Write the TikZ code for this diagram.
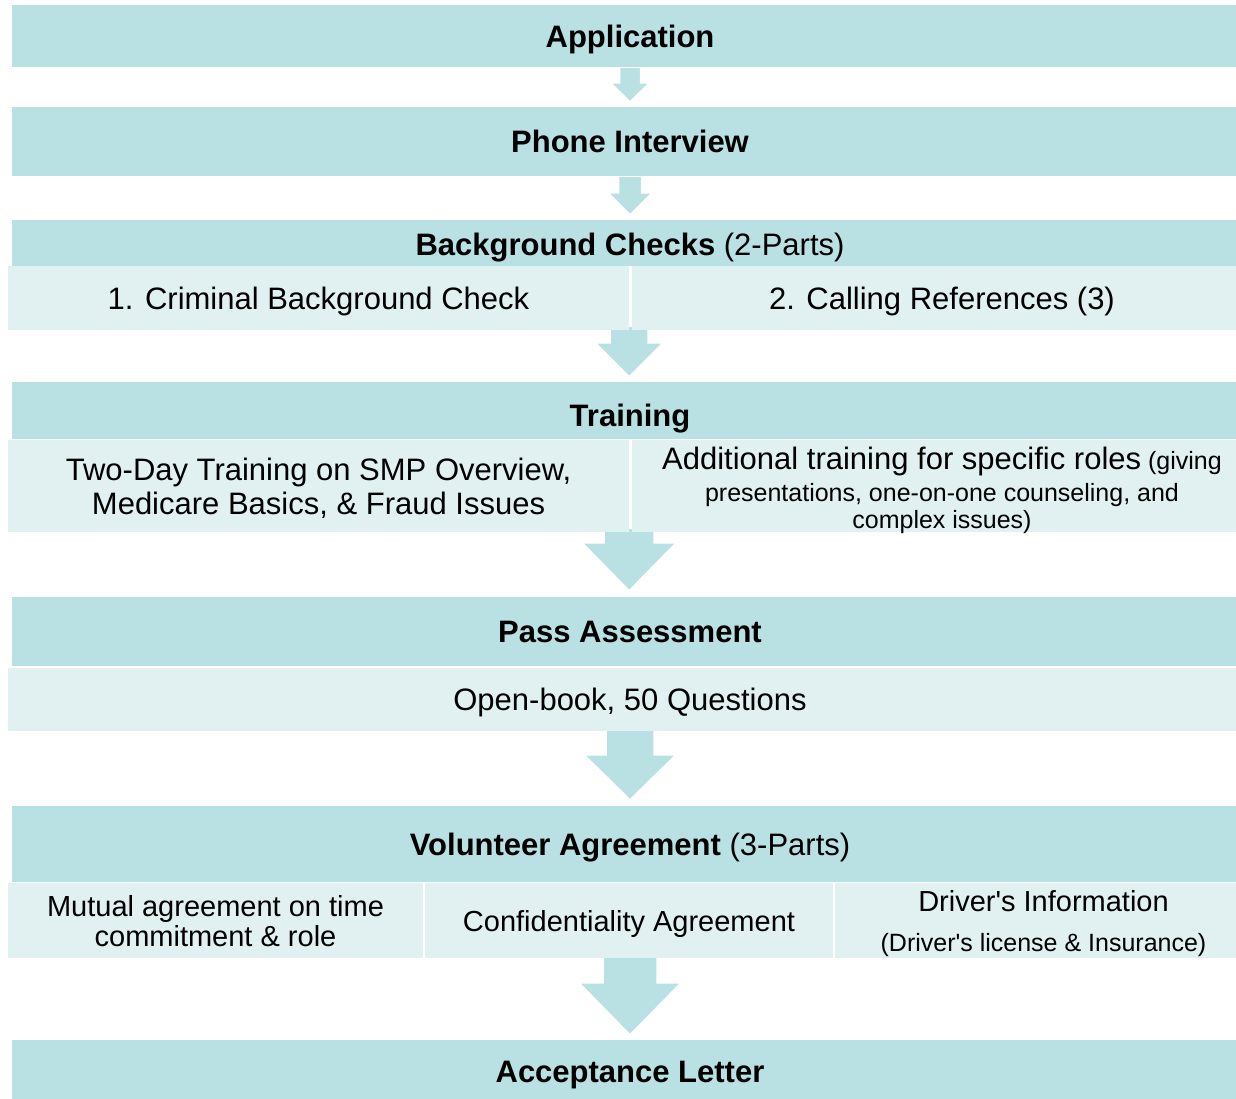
\documentclass[tikz,border=0pt]{standalone}
\usepackage{fontspec}
\setmainfont{Liberation Sans}
\usetikzlibrary{calc,backgrounds}
\definecolor{bandfill}{RGB}{185,224,227}
\definecolor{partfill}{RGB}{225,240,241}
\tikzset{
  band/.style={fill=bandfill,minimum width=1236pt,inner sep=0pt,
    text height=22pt,text depth=0pt,
    font=\fontsize{31}{34}\selectfont\bfseries},
  part/.style={fill=partfill,inner sep=0pt,align=center,
    text height=22pt,text depth=0pt,
    font=\fontsize{31}{34}\selectfont},
}
% block arrow: start point, target node, shaft half width, head half width, head length, gap
\newcommand\blockarrow[6]{%
  \fill[bandfill,draw=white,line width=1.5pt] let \p1=#1, \p2=(#2.north) in
    (\x1-#3pt,\y1) -- (\x1+#3pt,\y1) -- (\x1+#3pt,\y2+#6pt+#5pt)
    -- (\x1+#4pt,\y2+#6pt+#5pt) -- (\x1,\y2+#6pt) -- (\x1-#4pt,\y2+#6pt+#5pt)
    -- (\x1-#3pt,\y2+#6pt+#5pt) -- cycle;}
\begin{document}
\begin{tikzpicture}[x=1pt,y=-1pt]
  \useasboundingbox (0,0) rectangle (1236,1098);
  \node[band,minimum height=62pt] (app) at (630,36) {Application};
  \node[band,minimum height=69pt] (phone) at (630,141.5) {Phone Interview};
  \node[band,minimum height=46pt,text height=24pt] (bg) at (630,243) {Background Checks \mdseries(2-Parts)};
  \node[part,minimum width=621pt,minimum height=64pt] (bgL) at (318.5,298) {1. Criminal Background Check};
  \node[part,minimum width=620pt,minimum height=64pt] (bgR) at (942,298) {2. Calling References (3)};
  \node[band,minimum height=57pt,text height=31pt] (train) at (630,410.5) {Training};
  \node[part,minimum width=621pt,minimum height=92pt,text height=56pt] (trainL) at (318.5,486)
    {Two-Day Training on SMP Overview,\\Medicare Basics, \& Fraud Issues};
  \node[part,minimum width=620pt,minimum height=92pt,text height=84pt,font=\fontsize{25}{27}\selectfont] (trainR) at (942,486)
    {{\fontsize{31}{31}\selectfont Additional training for specific roles} (giving\\[5pt]
     presentations, one-on-one counseling, and\\complex issues)};
  \node[band,minimum height=69pt] (pass) at (630,631.5) {Pass Assessment};
  \node[part,minimum width=1244pt,minimum height=63pt] (passS) at (630,699.5) {Open-book, 50 Questions};
  \node[band,minimum height=76pt] (vol) at (630,844) {Volunteer Agreement \mdseries(3-Parts)};
  \node[part,minimum width=415pt,minimum height=75pt,text height=51pt,font=\fontsize{29}{30}\selectfont] (volL) at (215.5,920.5)
    {Mutual agreement on time\\commitment \& role};
  \node[part,minimum width=408pt,minimum height=75pt,text height=21pt,font=\fontsize{29}{30}\selectfont] (volM) at (629,920.5)
    {Confidentiality Agreement};
  \node[part,minimum width=417pt,minimum height=75pt,text height=62pt,font=\fontsize{29}{30}\selectfont] (volR) at (1043.5,920.5)
    {Driver\textquotesingle s Information\\[10pt]{\fontsize{25}{27}\selectfont (Driver\textquotesingle s license \& Insurance)}};
  \node[band,minimum height=62pt] (acc) at (630,1071) {Acceptance Letter};
  \begin{scope}[on background layer]
    \blockarrow{(app.south)}{phone}{10.5}{19.5}{19}{5}
    \blockarrow{(phone.south)}{bg}{11.5}{22}{22}{5}
    \blockarrow{($(bgL.south east)+(0,-4)$)}{train}{19}{34}{34}{5}
    \blockarrow{($(trainL.south east)+(0,-4)$)}{pass}{25}{47}{48}{6}
    \blockarrow{($(passS.south)+(0,-4)$)}{vol}{24}{46}{45}{6}
    \blockarrow{($(volM.south)+(1,-4)$)}{acc}{27}{51}{52}{5}
  \end{scope}
\end{tikzpicture}
\end{document}
